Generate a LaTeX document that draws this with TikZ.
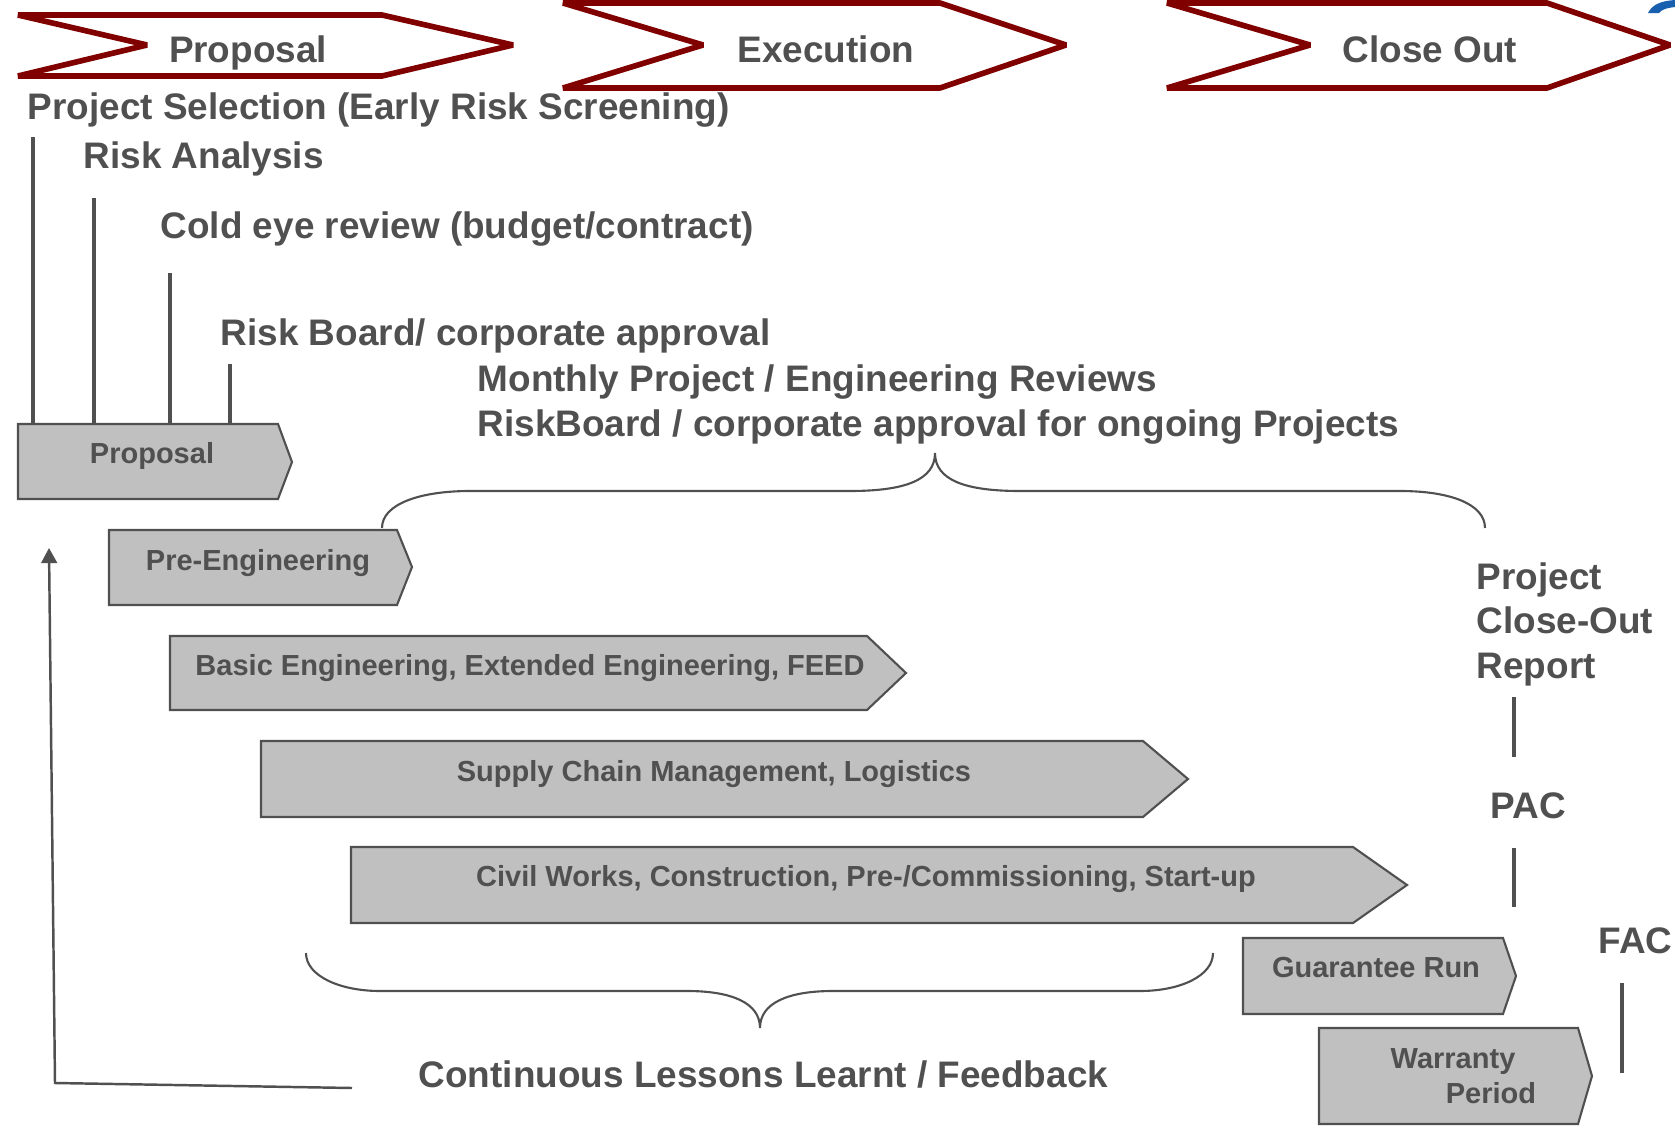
\documentclass[tikz,border=0pt]{standalone}
\usepackage{fontspec}
\setmainfont{Liberation Sans}
\usetikzlibrary{arrows.meta}
\definecolor{darkred}{RGB}{128,0,0}
\definecolor{txtgray}{RGB}{80,80,80}
\definecolor{boxgray}{RGB}{192,192,192}
\definecolor{logoblue}{RGB}{25,95,175}

\begin{document}
\begin{tikzpicture}[x=0.01cm, y=-0.01cm,
    phase/.style={draw=darkred, line width=1.6pt, line join=bevel},
    bigtext/.style={text=txtgray, inner sep=0pt, align=left,
        font=\fontsize{10.5}{12.6}\selectfont\bfseries},
    boxtext/.style={text=txtgray, inner sep=0pt, align=left,
        font=\fontsize{8.25}{9.7}\selectfont\bfseries},
    stagebox/.style={draw=txtgray, fill=boxgray, line width=0.6pt},
    tick/.style={draw=txtgray, line width=1.4pt},
    brace/.style={draw=txtgray, line width=0.6pt}]
    \useasboundingbox (0,0) rectangle (1675,1127);

    % phases on top
    \draw[phase] (18,15) -- (382,15) -- (513,45) -- (382,76) -- (18,76) -- (147,45) -- cycle;
    \draw[phase] (563,3) -- (940,3) -- (1066,45) -- (940,88) -- (563,88) -- (703,45) -- cycle;
    \draw[phase] (1167,3) -- (1547,3) -- (1670,45) -- (1547,88) -- (1167,88) -- (1310,45) -- cycle;
    \node[bigtext, anchor=base] (phprop) at (248,62) {Proposal};
    \node[bigtext, anchor=base] (phexec) at (826,62) {Execution};
    \node[bigtext, anchor=base] (phclose) at (1430,62) {Close Out};
    \fill[logoblue] (1648,13) .. controls (1652,5) and (1660,1) .. (1675,0) -- (1675,7) .. controls (1666,8) and (1661,10) .. (1659,13) -- cycle;

    % gates before the proposal
    \node[bigtext, anchor=base west] (select) at (27,119) {Project Selection (Early Risk Screening)};
    \node[bigtext, anchor=base west] (analysis) at (83,168) {Risk Analysis};
    \node[bigtext, anchor=base west] (coldeye) at (160,238) {Cold eye review (budget/contract)};
    \node[bigtext, anchor=base west] (board) at (220,345) {Risk Board/ corporate approval};
    \node[bigtext, anchor=base west] (monthly) at (477,391) {Monthly Project / Engineering Reviews};
    \node[bigtext, anchor=base west] (ongoing) at (477,436) {RiskBoard / corporate approval for ongoing Projects};

    % stages
    \draw[stagebox] (18,424) -- (278,424) -- (292,462) -- (278,499) -- (18,499) -- cycle;
    \draw[stagebox] (109,530) -- (397,530) -- (412,567) -- (397,605) -- (109,605) -- cycle;
    \draw[stagebox] (170,636) -- (867,636) -- (906,673) -- (867,710) -- (170,710) -- cycle;
    \draw[stagebox] (261,741) -- (1143,741) -- (1188,779) -- (1143,817) -- (261,817) -- cycle;
    \draw[stagebox] (351,847) -- (1353,847) -- (1407,885) -- (1353,923) -- (351,923) -- cycle;
    \draw[stagebox] (1243,938) -- (1503,938) -- (1516,976) -- (1503,1014) -- (1243,1014) -- cycle;
    \draw[stagebox] (1319,1028) -- (1578,1028) -- (1592,1076) -- (1578,1124) -- (1319,1124) -- cycle;
    \coordinate (proptop) at (18,424);

    \node[boxtext, anchor=base] (sprop) at (152,463) {Proposal};
    \node[boxtext, anchor=base] (spre) at (258,570) {Pre-Engineering};
    \node[boxtext, anchor=base] (sbasic) at (530,675) {Basic Engineering, Extended Engineering, FEED};
    \node[boxtext, anchor=base] (ssupply) at (714,781) {Supply Chain Management, Logistics};
    \node[boxtext, anchor=base] (scivil) at (866,886) {Civil Works, Construction, Pre-/Commissioning, Start-up};
    \node[boxtext, anchor=base] (sguar) at (1376,977) {Guarantee Run};
    \node[boxtext, anchor=base west] (swarr) at (1390,1103) {Warranty\\\hspace*{1.9em}Period};

    % ticks down to the proposal box
    \coordinate (t1) at (33,137);
    \coordinate (t2) at (94,198);
    \coordinate (t3) at (170,273);
    \coordinate (t4) at (230,364);
    \foreach \t in {t1,t2,t3,t4}
        \draw[tick] (\t) -- (\t |- proptop);

    % braces
    \draw[brace] (382,528) .. controls (382,504) and (420,491) .. (470,491) -- (850,491)
        .. controls (905,491) and (935,480) .. (935,453)
        .. controls (935,480) and (965,491) .. (1020,491) -- (1400,491)
        .. controls (1450,491) and (1485,504) .. (1485,528);
    \draw[brace] (306,953) .. controls (306,976) and (340,991) .. (380,991) -- (687,991)
        .. controls (732,991) and (760,1003) .. (760,1028)
        .. controls (760,1003) and (788,991) .. (833,991) -- (1140,991)
        .. controls (1180,991) and (1213,976) .. (1213,953);

    % close out
    \node[bigtext, anchor=base west] (report) at (1476,678) {Project\\Close-Out\\Report};
    \node[bigtext, anchor=base west] (pac) at (1490,818) {PAC};
    \node[bigtext, anchor=base west] (fac) at (1598,953) {FAC};
    \coordinate (r1) at (1514,697);
    \coordinate (r2) at (1514,848);
    \coordinate (r3) at (1622,983);
    \draw[tick] (r1) -- ++(0,60);
    \draw[tick] (r2) -- ++(0,59);
    \draw[tick] (r3) -- ++(0,90);

    % feedback loop
    \node[bigtext, anchor=base west] (lessons) at (418,1087) {Continuous Lessons Learnt / Feedback};
    \coordinate (fbstart) at (352,1088);
    \coordinate (fbcorner) at (55,1083);
    \coordinate (fbend) at (49,548);
    \draw[txtgray, line width=0.7pt, -{Triangle[length=4.3pt,width=4.5pt]}] (fbstart) -- (fbcorner) -- (fbend);
\end{tikzpicture}
\end{document}
